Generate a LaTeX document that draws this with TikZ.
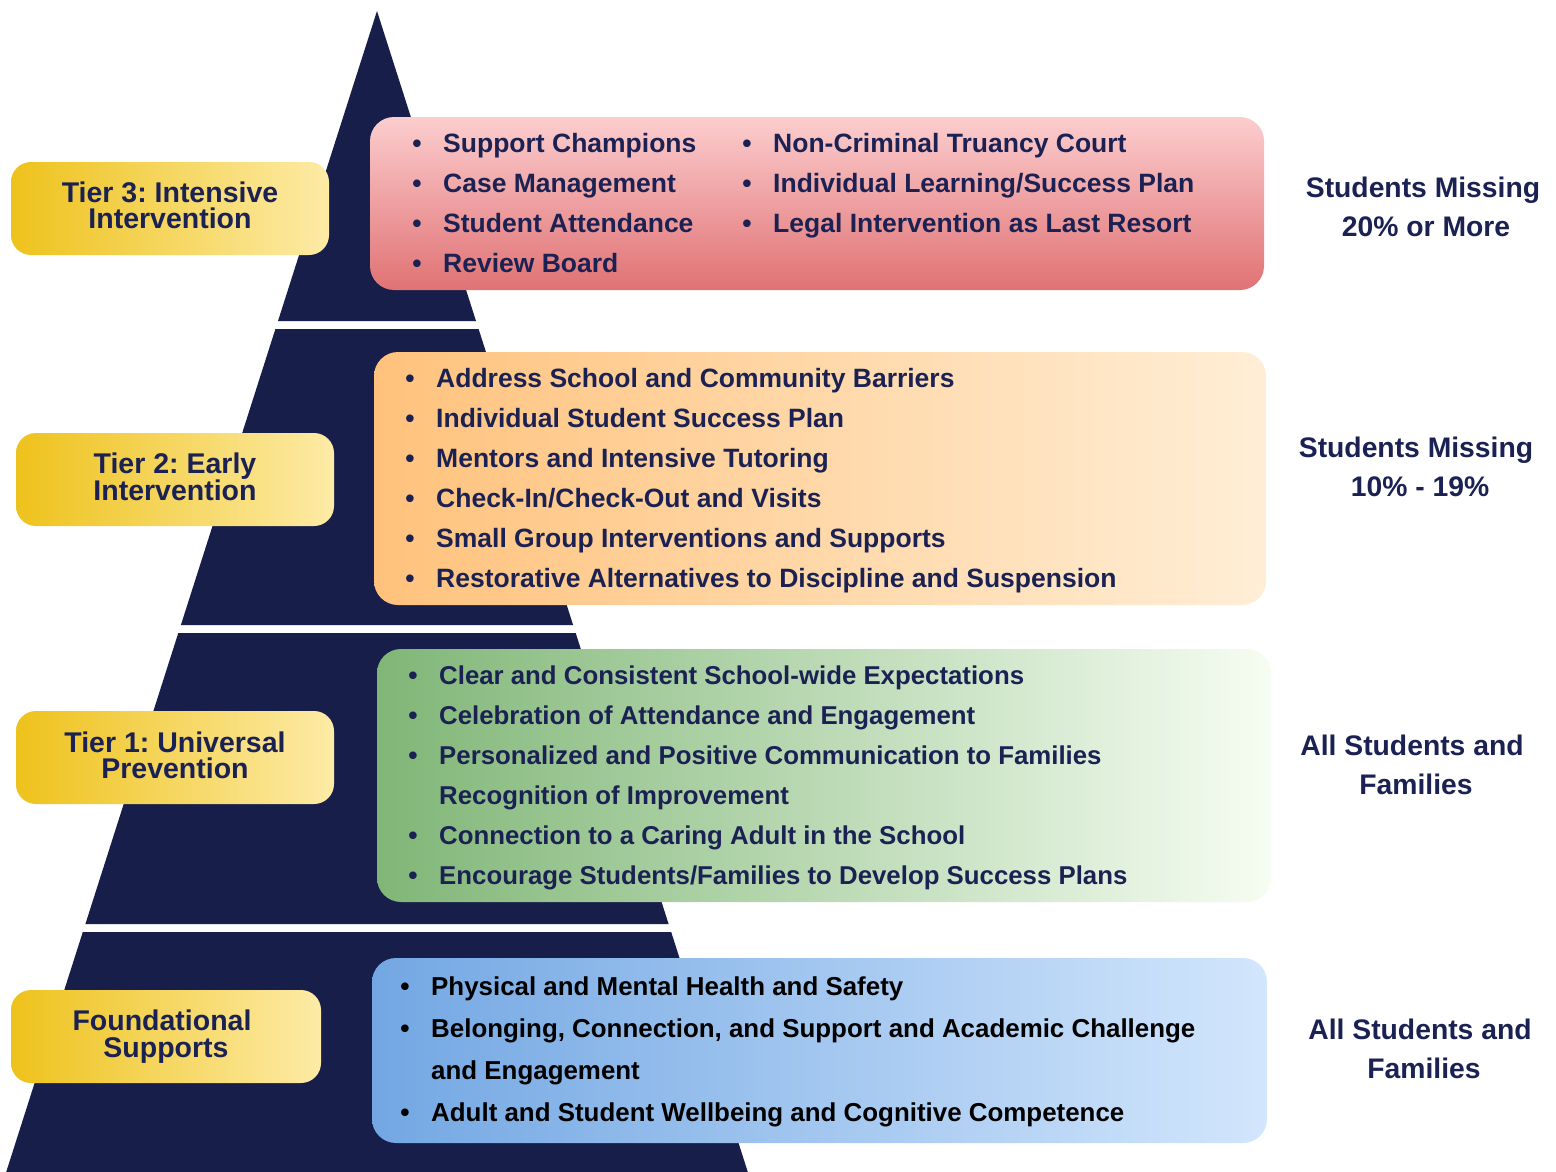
\documentclass[tikz,border=0pt]{standalone}
\usepackage{fontspec}
\setmainfont{Liberation Sans}
\usetikzlibrary{shapes.misc}
\frenchspacing
\definecolor{navy}{HTML}{171E49}
\definecolor{txt}{HTML}{1B2253}
\definecolor{yelL}{HTML}{EEC21C}
\definecolor{yelR}{HTML}{FDEBA6}
\definecolor{redT}{HTML}{FCCDCE}
\definecolor{redB}{HTML}{E07274}
\definecolor{oraL}{HTML}{FFC27C}
\definecolor{oraR}{HTML}{FFEED6}
\definecolor{greL}{HTML}{80B677}
\definecolor{greR}{HTML}{F6FDF2}
\definecolor{bluL}{HTML}{73A7E3}
\definecolor{bluR}{HTML}{D2E6FC}
\tikzset{
  seg/.style={fill=navy},
  tierbox/.style={rectangle, rounded corners=20pt, inner sep=0pt, outer sep=0pt,
    left color=yelL, right color=yelR, minimum height=93pt},
  listbox/.style={rectangle, rounded corners=24pt, inner sep=0pt, outer sep=0pt},
  tierlbl/.style={anchor=base, inner sep=0pt, text=txt, font=\fontsize{28.5}{27}\selectfont\bfseries},
  item/.style={anchor=base west, inner sep=0pt, text=txt, font=\fontsize{26.5}{30}\selectfont\bfseries},
  bul/.style={anchor=base, inner sep=0pt, text=txt, font=\fontsize{26.5}{30}\selectfont\bfseries},
  itemg/.style={item, font=\fontsize{25.8}{30}\selectfont\bfseries},
  itemb/.style={item, text=black, font=\fontsize{25.9}{30}\selectfont\bfseries},
  side/.style={anchor=base, inner sep=0pt, text=txt, font=\fontsize{28.3}{30}\selectfont\bfseries},
}
\begin{document}
\begin{tikzpicture}[x=1pt,y=-1pt]
\useasboundingbox (0,0) rectangle (1556,1172);
\fill[white] (0,0) rectangle (1556,1172);
% pyramid
\fill[seg] (377,11) -- (476,321) -- (278,321) -- cycle;
\fill[seg] (275.4,329) -- (478.6,329) -- (573.1,625) -- (180.9,625) -- cycle;
\fill[seg] (178.3,633) -- (575.7,633) -- (668.6,924) -- (85.4,924) -- cycle;
\fill[seg] (82.8,932) -- (671.2,932) -- (747.8,1172) -- (6.2,1172) -- cycle;

% list boxes
\node[listbox, top color=redT, bottom color=redB, minimum width=894pt, minimum height=173pt] (b3) at (817,203.5) {};
\node[listbox, left color=oraL, right color=oraR, minimum width=892pt, minimum height=253pt] (b2) at (820,478.5) {};
\node[listbox, left color=greL, right color=greR, minimum width=894pt, minimum height=253pt] (b1) at (824,775.5) {};
\node[listbox, left color=bluL, right color=bluR, minimum width=895pt, minimum height=185pt] (b0) at (819.5,1050.5) {};

% tier boxes
\node[tierbox, minimum width=318pt] (t3) at (170,208.5) {};
\node[tierbox, minimum width=318pt] (t2) at (175,479.5) {};
\node[tierbox, minimum width=318pt] (t1) at (175,757.5) {};
\node[tierbox, minimum width=310pt] (t0) at (166,1036.5) {};

\node[tierlbl] (t3a) at (170,202) {Tier 3: Intensive};
\node[tierlbl] (t3b) at (170,228) {Intervention};
\node[tierlbl] (t2a) at (175,473) {Tier 2: Early};
\node[tierlbl] (t2b) at (175,500) {Intervention};
\node[tierlbl] (t1a) at (175,752) {Tier 1: Universal};
\node[tierlbl] (t1b) at (175,778) {Prevention};
\node[tierlbl] (t0a) at (162,1030) {Foundational};
\node[tierlbl] (t0b) at (166,1057) {Supports};

% tier 3 items
\node[bul] (r1b) at (417,152) {•}; \node[item] (r1) at (443,152) {Support Champions};
\node[bul] (r2b) at (417,192) {•}; \node[item] (r2) at (443,192) {Case Management};
\node[bul] (r3b) at (417,232) {•}; \node[item] (r3) at (443,232) {Student Attendance};
\node[bul] (r4b) at (417,272) {•}; \node[item] (r4) at (443,272) {Review Board};
\node[bul] (r5b) at (747,152) {•}; \node[item] (r5) at (773,152) {Non-Criminal Truancy Court};
\node[bul] (r6b) at (747,192) {•}; \node[item] (r6) at (773,192) {Individual Learning/Success Plan};
\node[bul] (r7b) at (747,232) {•}; \node[item] (r7) at (773,232) {Legal Intervention as Last Resort};

% tier 2 items
\node[bul] (o1b) at (410,387.5) {•}; \node[item] (o1) at (436,387.5) {Address School and Community Barriers};
\node[bul] (o2b) at (410,427.5) {•}; \node[item] (o2) at (436,427.5) {Individual Student Success Plan};
\node[bul] (o3b) at (410,467.5) {•}; \node[item] (o3) at (436,467.5) {Mentors and Intensive Tutoring};
\node[bul] (o4b) at (410,507.5) {•}; \node[item] (o4) at (436,507.5) {Check-In/Check-Out and Visits};
\node[bul] (o5b) at (410,547.5) {•}; \node[item] (o5) at (436,547.5) {Small Group Interventions and Supports};
\node[bul] (o6b) at (410,587.5) {•}; \node[item] (o6) at (436,587.5) {Restorative Alternatives to Discipline and Suspension};

% tier 1 items
\node[bul] (g1b) at (413,684.5) {•}; \node[itemg] (g1) at (439,684.5) {Clear and Consistent School-wide Expectations};
\node[bul] (g2b) at (413,724.5) {•}; \node[itemg] (g2) at (439,724.5) {Celebration of Attendance and Engagement};
\node[bul] (g3b) at (413,764.5) {•}; \node[itemg] (g3) at (439,764.5) {Personalized and Positive Communication to Families};
\node[itemg] (g4) at (439,804.5) {Recognition of Improvement};
\node[bul] (g5b) at (413,844.5) {•}; \node[itemg] (g5) at (439,844.5) {Connection to a Caring Adult in the School};
\node[bul] (g6b) at (413,884.5) {•}; \node[itemg] (g6) at (439,884.5) {Encourage Students/Families to Develop Success Plans};

% foundational items
\node[bul, text=black] (f1b) at (405,995.5) {•}; \node[itemb] (f1) at (431,995.5) {Physical and Mental Health and Safety};
\node[bul, text=black] (f2b) at (405,1037.5) {•}; \node[itemb] (f2) at (431,1037.5) {Belonging, Connection, and Support and Academic Challenge};
\node[itemb] (f3) at (431,1079.5) {and Engagement};
\node[bul, text=black] (f4b) at (405,1121.5) {•}; \node[itemb] (f4) at (431,1121.5) {Adult and Student Wellbeing and Cognitive Competence};

% side labels
\node[side] (s3a) at (1423,197) {Students Missing};
\node[side] (s3b) at (1426,236) {20\% or More};
\node[side] (s2a) at (1416,457) {Students Missing};
\node[side] (s2b) at (1420,496) {10\% - 19\%};
\node[side] (s1a) at (1412,755) {All Students and};
\node[side] (s1b) at (1416,794) {Families};
\node[side] (s0a) at (1420,1039) {All Students and};
\node[side] (s0b) at (1424,1078) {Families};
\end{tikzpicture}
\end{document}
